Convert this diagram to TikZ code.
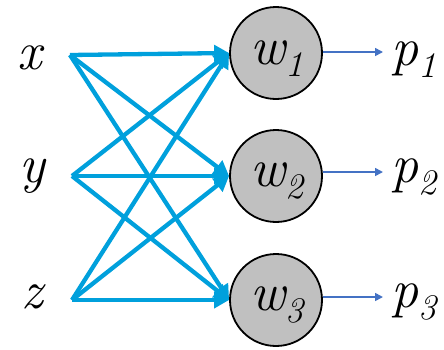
\documentclass[tikz,border=0pt]{standalone}
\usetikzlibrary{arrows.meta}
\definecolor{inblue}{HTML}{00A0DC}
\definecolor{outblue}{HTML}{4472C4}
\definecolor{nodegray}{HTML}{C0C0C0}
\newcommand{\biglbl}[1]{{\fontsize{54}{54}\selectfont\itshape #1}}
\newcommand{\lbl}[2]{{\fontsize{54}{54}\selectfont\itshape #1\raisebox{-0.24em}{\fontsize{36}{36}\selectfont #2}}}
\tikzset{
  neuron/.style={circle, draw=black, line width=1.8pt, fill=nodegray, minimum size=92pt, inner sep=0pt},
  inarrow/.style={draw=inblue, line width=4.3pt, -{Triangle[length=15pt,width=16pt]}},
  outarrow/.style={draw=outblue, line width=1.6pt, -{Triangle[length=8pt,width=8pt]}},
  vlabel/.style={anchor=base, inner sep=0pt}
}
\begin{document}
\begin{tikzpicture}[x=1pt,y=-1pt]
\useasboundingbox (0,0) rectangle (444,349);
\node[neuron] (w1) at (276,53) {};
\node[neuron] (w2) at (276,176) {};
\node[neuron] (w3) at (276,300) {};
\node[vlabel] at (277,64) {\lbl{w}{1}};
\node[vlabel] at (277,186) {\lbl{w}{2}};
\node[vlabel] at (277,310) {\lbl{w}{3}};
\coordinate (sx) at (70,55);
\coordinate (sy) at (72,176);
\coordinate (sz) at (72,300);
\node[vlabel] (lx) at (30,69) {\biglbl{x}};
\node[vlabel] (ly) at (32,182) {\biglbl{y}};
\node[vlabel] (lz) at (32,308) {\biglbl{z}};
\foreach \s in {sx,sy,sz}{
  \foreach \t in {w1,w2,w3}{
    \draw[inarrow] (\s) -- (\t.west);
  }
}
\coordinate (e1) at (383,52);
\coordinate (e2) at (383,172);
\coordinate (e3) at (383,297);
\draw[outarrow] (w1.east |- e1) -- (e1);
\draw[outarrow] (w2.east |- e2) -- (e2);
\draw[outarrow] (w3.east |- e3) -- (e3);
\node[vlabel] (p1) at (414,65) {\lbl{p}{1}};
\node[vlabel] (p2) at (414,182) {\lbl{p}{2}};
\node[vlabel] (p3) at (414,307) {\lbl{p}{3}};
\end{tikzpicture}
\end{document}
